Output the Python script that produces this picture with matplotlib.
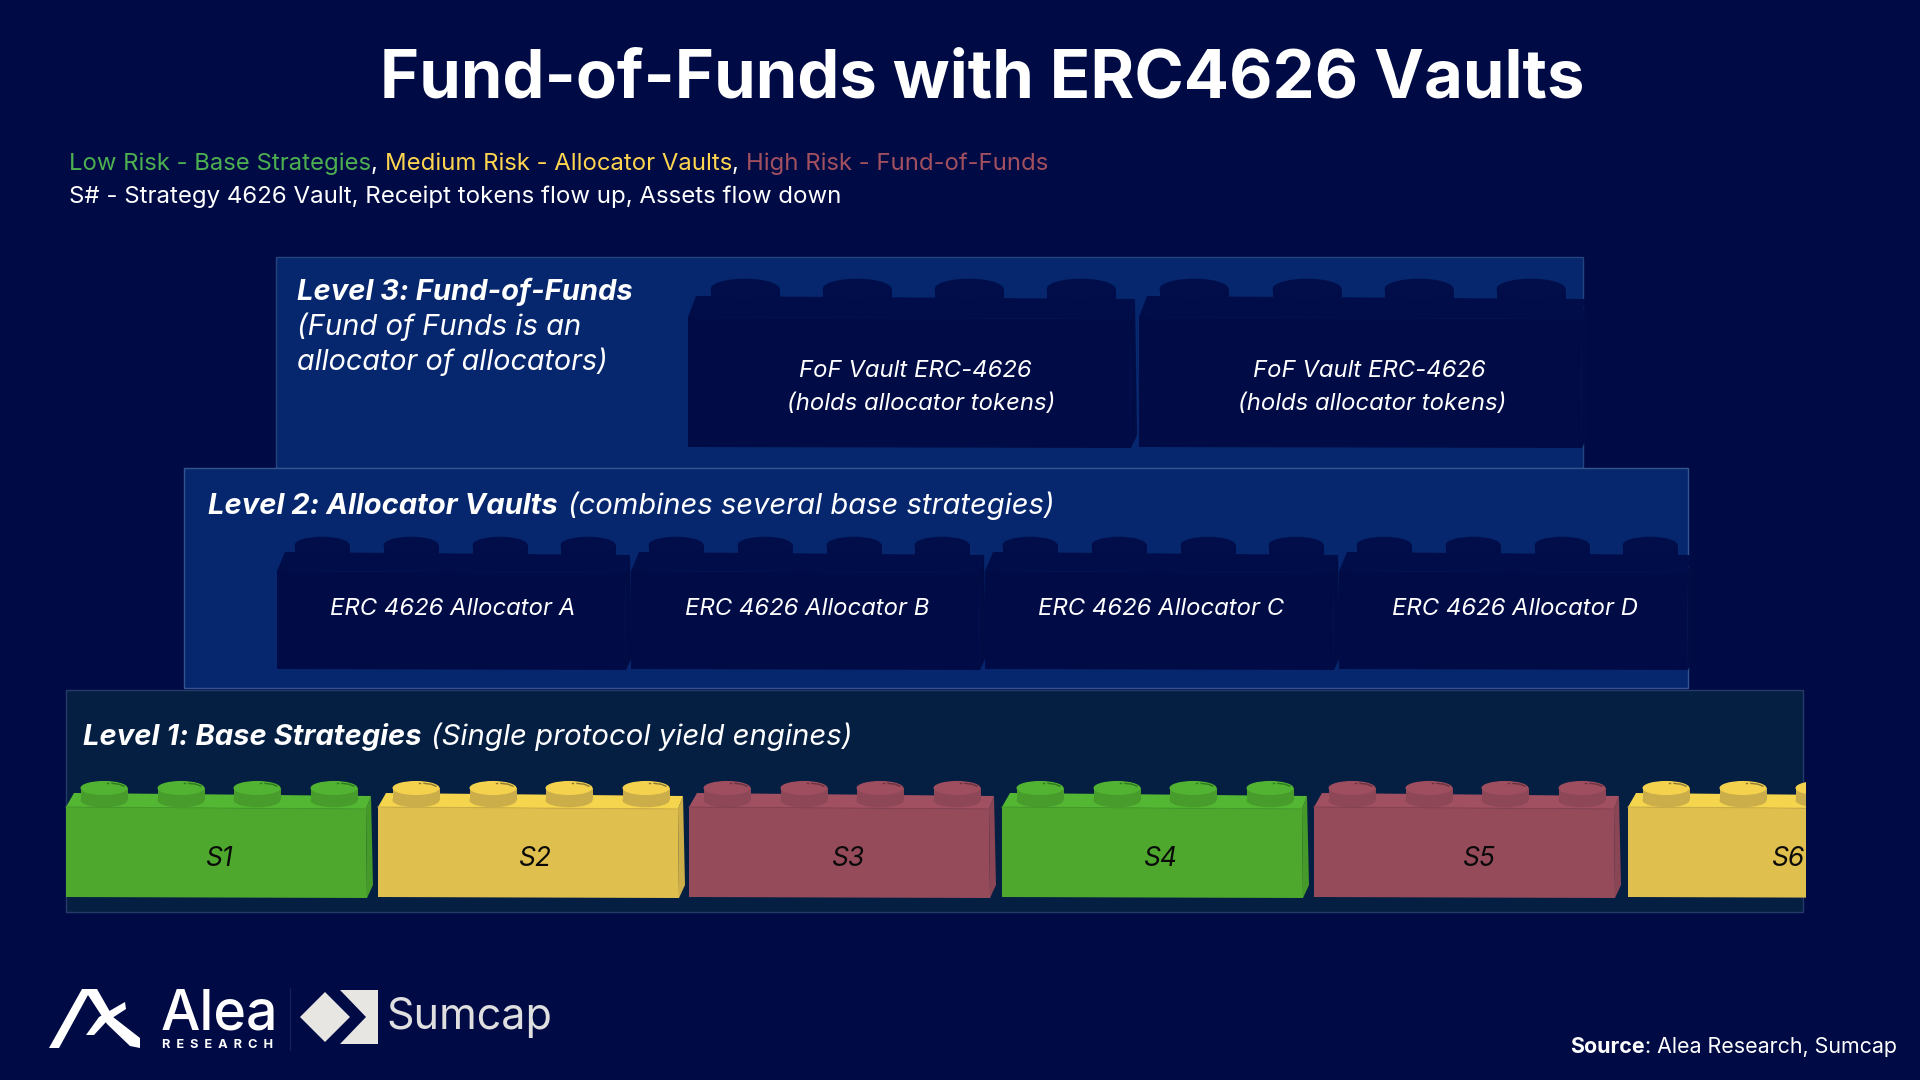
import matplotlib
matplotlib.use("Agg")
import matplotlib.pyplot as plt
from matplotlib.patches import Polygon, Ellipse, Rectangle

# ---- content ----
title = "Fund-of-Funds with ERC4626 Vaults"
legend_pieces = ["Low Risk - Base Strategies", ", ", "Medium Risk - Allocator Vaults", ", ", "High Risk - Fund-of-Funds"]
legend_kinds = ["low", "white", "medium", "white", "high"]
legend_line2 = "S# - Strategy 4626 Vault, Receipt tokens flow up, Assets flow down"
strategy_labels = ["S1", "S2", "S3", "S4", "S5", "S6"]
strategy_risk = ["low", "medium", "high", "low", "high", "medium"]
allocator_labels = ["ERC 4626 Allocator A", "ERC 4626 Allocator B", "ERC 4626 Allocator C", "ERC 4626 Allocator D"]
fof_labels = ["FoF Vault ERC-4626\n(holds allocator tokens)", "FoF Vault ERC-4626\n(holds allocator tokens)"]

BG = "#000b45"
TXT = {"low": "#4caf50", "medium": "#ffd54f", "high": "#a2505f", "white": "#ffffff"}
PAL = {
    "low":    dict(front="#4ea82e", top="#54b733", side="#459a2a", stud="#479c2b", cap="#52b332", hl="#2f7a20", edge="#479c2b"),
    "medium": dict(front="#dfbf4e", top="#f5d44e", side="#cdae48", stud="#cbad49", cap="#f4d24e", hl="#8f7a35", edge="#cfb048"),
    "high":   dict(front="#964b5b", top="#a15061", side="#8a4655", stud="#8d4757", cap="#9e4e5e", hl="#6b3342", edge="#874353"),
    "dark":   dict(front="#010c46", top="#010d49", side="#010c44", stud="#010d48", cap="#020e4a", hl="#020e4a", edge="#010c46"),
}

fig = plt.figure(figsize=(19.2, 10.8), dpi=100, facecolor=BG)
ax = fig.add_axes([0, 0, 1, 1])
ax.set_xlim(0, 1920)
ax.set_ylim(1080, 0)
ax.axis("off")

def T(x, y, s, size, weight="normal", style="normal", color="white", ha="left", va="baseline", family="Inter", **kw):
    return ax.text(x, y, s, fontsize=size, fontweight=weight, fontstyle=style, color=color,
                   ha=ha, va=va, family=family, **kw)

def advance(x, y, s, size, weight="normal", style="normal", color="white"):
    """Draw s and return the x where following text starts (spaces included)."""
    T(x, y, s, size, weight, style, color)
    r = fig.canvas.get_renderer()
    a = T(0, 0, s + "|", size, weight, style)
    b = T(0, 0, "|", size, weight, style)
    w = a.get_window_extent(r).width - b.get_window_extent(r).width
    a.remove(); b.remove()
    return x + w

def brick(x0, x1, ytop, yfront, ybot, studs, stud_w, stud_cy, key, clip=None, hl=False):
    p = PAL[key]
    parts = [
        Polygon([(x1 - 4, yfront + 2), (x1 + 1, ytop + 3), (x1 + 3, ybot - 12), (x1 - 3, ybot + 1)], fc=p["side"], ec="none"),
        Polygon([(x0, yfront), (x0 + 8, ytop), (x1 + 1, ytop + 3), (x1 - 4, yfront + 2)], fc=p["top"], ec="none"),
        Polygon([(x0, yfront), (x1 - 4, yfront + 2), (x1 - 3, ybot + 1), (x0, ybot)], fc=p["front"], ec="none"),
    ]
    ry = stud_w * 0.15
    h = stud_w * 0.26
    for cx in studs:
        parts += [
            Ellipse((cx, stud_cy + h), stud_w, 2 * ry, fc=p["stud"], ec="none"),
            Rectangle((cx - stud_w / 2, stud_cy), stud_w, h, fc=p["stud"], ec="none"),
            Ellipse((cx, stud_cy), stud_w, 2 * ry, fc=p["cap"], ec="none"),
        ]
    for a in parts:
        ax.add_patch(a)
        if clip is not None:
            a.set_clip_path(clip)
    if hl:
        l0, = ax.plot([x0, x1 - 4], [yfront, yfront + 2], color=p["edge"], lw=0.7)
        lines = [l0]
        for cx in studs:
            l1, = ax.plot([cx + 8, cx + 15, cx + 20], [stud_cy - 4.6, stud_cy - 3.8, stud_cy - 1.8], color=p["hl"], lw=1.0)
            l2, = ax.plot([cx + 2.5, cx + 4], [stud_cy - 5, stud_cy - 5], color=p["hl"], lw=1.0)
            lines += [l1, l2]
        if clip is not None:
            for l in lines:
                l.set_clip_path(clip)

# ---- panels ----
ax.add_patch(Rectangle((276, 257), 1307, 211, fc="#06276e", ec="#24437f", lw=1))
ax.add_patch(Rectangle((184, 468), 1504, 220, fc="#06276e", ec="#35548f", lw=1))
ax.add_patch(Rectangle((66, 690), 1737, 222, fc="#051f42", ec="#253a68", lw=1))

# ---- level 3 ----
fof_x = [688, 1139]
fof_cx = [[745, 857, 969, 1081], [1194, 1307, 1419, 1531]]
fof_tx = [(915, 921), (1369, 1372)]
for i, lab in enumerate(fof_labels):
    brick(fof_x[i], fof_x[i] + 446, 296, 317, 447, fof_cx[i], 69, 289, "dark")
    a, b = lab.split("\n")
    T(fof_tx[i][0], 377, a, 17.2, style="italic", ha="center")
    T(fof_tx[i][1], 410, b, 17.2, style="italic", ha="center")

# ---- level 2 ----
alloc_x = [277, 631, 985, 1339]
for i, lab in enumerate(allocator_labels):
    x0 = alloc_x[i]
    brick(x0, x0 + 352, 552, 571, 669, [x0 + 45, x0 + 134, x0 + 223, x0 + 311], 55, 545, "dark")
    T(x0 + 176, 615, lab, 17.2, style="italic", ha="center")

# ---- level 1 ----
strat_x = [66, 378, 689, 1002, 1314, 1628]
strat_tx = [219, 535, 848, 1160, 1479, 1788]
clip_rect = Rectangle((0, 0), 1806, 1080, transform=ax.transData)
for i, lab in enumerate(strategy_labels):
    x0 = strat_x[i]
    brick(x0, x0 + 304, 793, 807, 897, [x0 + 38, x0 + 115, x0 + 191, x0 + 268], 47, 788,
          strategy_risk[i], clip=clip_rect, hl=True)
    T(strat_tx[i], 866, lab, 19, style="italic", ha="center", color="#0a0a0a")

# ---- headings ----
x = advance(208, 514, "Level 2: Allocator Vaults", 21, weight="bold", style="italic")
T(x + 10, 514, "(combines several base strategies)", 21, style="italic")
x = advance(83, 745, "Level 1: Base Strategies", 21, weight="bold", style="italic")
T(x + 9, 745, "(Single protocol yield engines)", 21.1, style="italic")
T(297, 300, "Level 3: Fund-of-Funds", 21, weight="bold", style="italic")
T(297, 335, "(Fund of Funds is an", 21, style="italic")
T(297, 370, "allocator of allocators)", 20.7, style="italic")

# ---- title + legend ----
T(982, 98, title, 48.2, weight="bold", ha="center")
x = 69
for s, k in zip(legend_pieces, legend_kinds):
    x = advance(x, 170, s, 17.2, color=TXT[k])
T(69, 203, legend_line2, 17.3)

# ---- source ----
x = advance(1570, 1053, "Source", 15.4, weight="bold")
T(x, 1053, ": Alea Research, Sumcap", 15.4)

# ---- logos ----
W = "#ffffff"
ax.add_patch(Polygon([(49, 1048), (82, 989), (97, 989), (113, 1017), (140, 1038), (140, 1048),
                      (130, 1046), (107, 1024), (88, 995), (59, 1048)], fc=W, ec="none"))
ax.add_patch(Polygon([(86, 1035), (99, 1017), (125, 1002), (126, 1009), (106, 1022), (94, 1035)], fc=W, ec="none"))
T(161, 1029, "Alea", 40, weight="medium")
T(162, 1048, "R  E  S  E  A  R  C  H", 9.2, weight="bold")
ax.plot([290, 290], [988, 1050], color="#14235c", lw=0.8)
G = "#e8e6e3"
ax.add_patch(Polygon([(300, 1017), (325, 992), (350, 1017), (325, 1042)], fc=G, ec="none"))
ax.add_patch(Polygon([(340, 990), (378, 990), (378, 1044), (340, 1044), (366, 1017)], fc=G, ec="none"))
T(386, 1029, "Sumcap", 31, color="#dfdfe0")

fig.savefig("out.png", dpi=100, facecolor=BG)
